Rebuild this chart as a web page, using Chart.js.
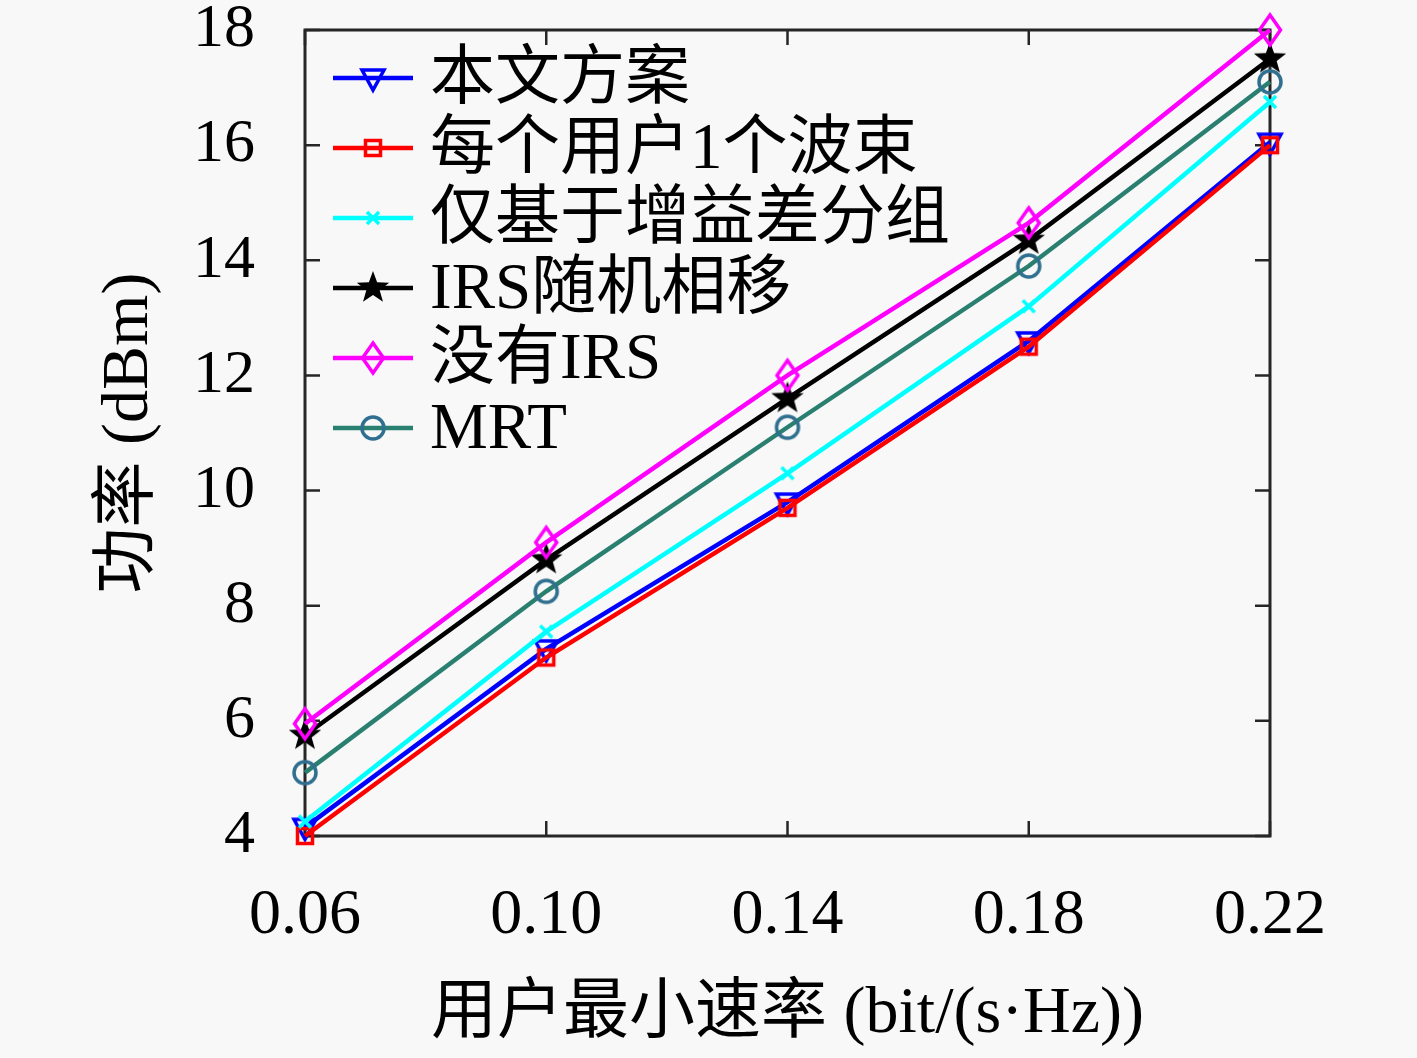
<!DOCTYPE html>
<html>
<head>
<meta charset="utf-8">
<script src="https://cdn.jsdelivr.net/npm/chart.js@4.4.0/dist/chart.umd.min.js"></script>
<style>
  html, body { margin: 0; padding: 0; background: #f8f8f8; }
  #wrap { width: 1417px; height: 1058px; }
</style>
</head>
<body>
<div id="wrap"><canvas id="power-chart"></canvas></div>
<script>
const rates = ['0.06', '0.10', '0.14', '0.18', '0.22'];
const seriesNames = ['本文方案', '每个用户1个波束', '仅基于增益差分组', 'IRS随机相移', '没有IRS', 'MRT'];
const proposed = [4.15, 7.25, 9.8, 12.6, 16.05];
const oneBeam = [4.0, 7.1, 9.7, 12.5, 16.0];
const gainOnly = [4.25, 7.55, 10.3, 13.2, 16.75];
const randomPhase = [5.75, 8.8, 11.6, 14.35, 17.5];
const noIrs = [5.95, 9.1, 12.0, 14.65, 18.0];
const mrt = [5.1, 8.25, 11.1, 13.9, 17.1];
const yTicks = [4, 6, 8, 10, 12, 14, 16, 18];

const FONT = '"Liberation Serif", "Noto Sans CJK SC", serif';
const AXIS_COLOR = '#262626';

// MATLAB-like markers drawn on small canvases
function marker(kind, color) {
  const c = document.createElement('canvas');
  c.width = 44;
  c.height = 44;
  const g = c.getContext('2d');
  g.strokeStyle = color;
  g.fillStyle = color;
  g.lineWidth = 3.5;
  g.translate(22, 22);
  g.beginPath();
  if (kind === 'tri') {
    g.moveTo(-11, -8); g.lineTo(11, -8); g.lineTo(0, 12); g.closePath(); g.stroke();
  } else if (kind === 'square') {
    g.rect(-7.5, -7.5, 15, 15); g.stroke();
  } else if (kind === 'x') {
    g.moveTo(-6, -6); g.lineTo(6, 6); g.moveTo(6, -6); g.lineTo(-6, 6); g.stroke();
  } else if (kind === 'star') {
    for (let i = 0; i < 10; i++) {
      const r = i % 2 === 0 ? 17 : 7;
      const a = -Math.PI / 2 + i * Math.PI / 5;
      if (i === 0) g.moveTo(r * Math.cos(a), r * Math.sin(a));
      else g.lineTo(r * Math.cos(a), r * Math.sin(a));
    }
    g.closePath(); g.fill();
  } else if (kind === 'diamond') {
    g.moveTo(0, -15); g.lineTo(10.5, 0); g.lineTo(0, 15); g.lineTo(-10.5, 0); g.closePath(); g.stroke();
  } else if (kind === 'circle') {
    g.arc(0, 0, 11, 0, Math.PI * 2); g.stroke();
  }
  return c;
}

function series(label, data, color, kind, markColor) {
  return {
    label: label,
    data: data,
    borderColor: color,
    backgroundColor: color,
    borderWidth: 4.5,
    pointStyle: marker(kind, markColor || color),
    pointRadius: 8,
    tension: 0,
    fill: false,
    clip: false
  };
}

const datasets = [
  series(seriesNames[0], proposed, '#0000ff', 'tri'),
  series(seriesNames[1], oneBeam, '#ff0000', 'square'),
  series(seriesNames[2], gainOnly, '#00ffff', 'x'),
  series(seriesNames[3], randomPhase, '#000000', 'star'),
  series(seriesNames[4], noIrs, '#ff00ff', 'diamond'),
  series(seriesNames[5], mrt, '#2a8070', 'circle', '#2f6f8f')
];
// later series on top, like MATLAB
datasets.forEach((ds, i) => { ds.order = datasets.length - i; });

// box around the plot with inward ticks
const framePlugin = {
  id: 'frame',
  beforeDatasetsDraw(chart) {
    const { ctx, chartArea: a, scales } = chart;
    const len = 15;
    ctx.save();
    ctx.strokeStyle = AXIS_COLOR;
    ctx.lineWidth = 3;
    ctx.strokeRect(a.left, a.top, a.right - a.left, a.bottom - a.top);
    ctx.lineWidth = 2.5;
    ctx.beginPath();
    yTicks.forEach(v => {
      const y = scales.y.getPixelForValue(v);
      ctx.moveTo(a.left, y); ctx.lineTo(a.left + len, y);
      ctx.moveTo(a.right, y); ctx.lineTo(a.right - len, y);
    });
    rates.forEach((r, i) => {
      const x = scales.x.getPixelForValue(i);
      ctx.moveTo(x, a.bottom); ctx.lineTo(x, a.bottom - len);
      ctx.moveTo(x, a.top); ctx.lineTo(x, a.top + len);
    });
    ctx.stroke();
    ctx.restore();
  }
};

// legend with line + marker, inside the top-left corner
const legendPlugin = {
  id: 'lineLegend',
  afterDraw(chart) {
    const { ctx, chartArea: a } = chart;
    const x0 = a.left + 28;
    const x1 = a.left + 108;
    ctx.save();
    ctx.font = '65px ' + FONT;
    ctx.textBaseline = 'middle';
    chart.data.datasets.forEach((ds, i) => {
      const y = a.top + 48 + i * 70;
      ctx.strokeStyle = ds.borderColor;
      ctx.lineWidth = 4.5;
      ctx.beginPath();
      ctx.moveTo(x0, y);
      ctx.lineTo(x1, y);
      ctx.stroke();
      const img = ds.pointStyle;
      ctx.drawImage(img, (x0 + x1) / 2 - img.width / 2, y - img.height / 2);
      ctx.fillStyle = '#000';
      ctx.fillText(ds.label, x1 + 17, y + 3);
    });
    ctx.restore();
  }
};

const ctx = document.getElementById('power-chart').getContext('2d');

const powerChart = new Chart(ctx, {
  type: 'line',
  data: { labels: rates, datasets: datasets },
  options: {
    responsive: true,
    maintainAspectRatio: false,
    animation: false,
    layout: { padding: { left: 0, right: 147, top: 30, bottom: 0 } },
    plugins: {
      legend: { display: false },
      tooltip: { enabled: false }
    },
    scales: {
      x: {
        type: 'category',
        offset: false,
        grid: { display: false },
        border: { display: false },
        ticks: {
          color: '#000',
          font: { family: FONT, size: 64, lineHeight: 1 },
          padding: 40,
          maxRotation: 0,
          autoSkip: false
        },
        title: {
          display: true,
          text: '用户最小速率 (bit/(s·Hz))',
          color: '#000',
          font: { family: FONT, size: 66 },
          padding: { top: 0, bottom: 4 }
        },
        afterFit(scale) { scale.height = 222; }
      },
      y: {
        min: 4,
        max: 18,
        grid: { display: false },
        border: { display: false },
        ticks: {
          stepSize: 2,
          color: '#000',
          font: { family: FONT, size: 62, lineHeight: 1 },
          padding: 42
        },
        title: {
          display: true,
          text: '功率 (dBm)',
          color: '#000',
          font: { family: FONT, size: 66 },
          padding: { top: 90 }
        },
        afterFit(scale) {
          scale.width = 305;
          scale.paddingTop = 0;
          scale.paddingBottom = 0;
        }
      }
    }
  },
  plugins: [framePlugin, legendPlugin]
});
</script>
</body>
</html>
